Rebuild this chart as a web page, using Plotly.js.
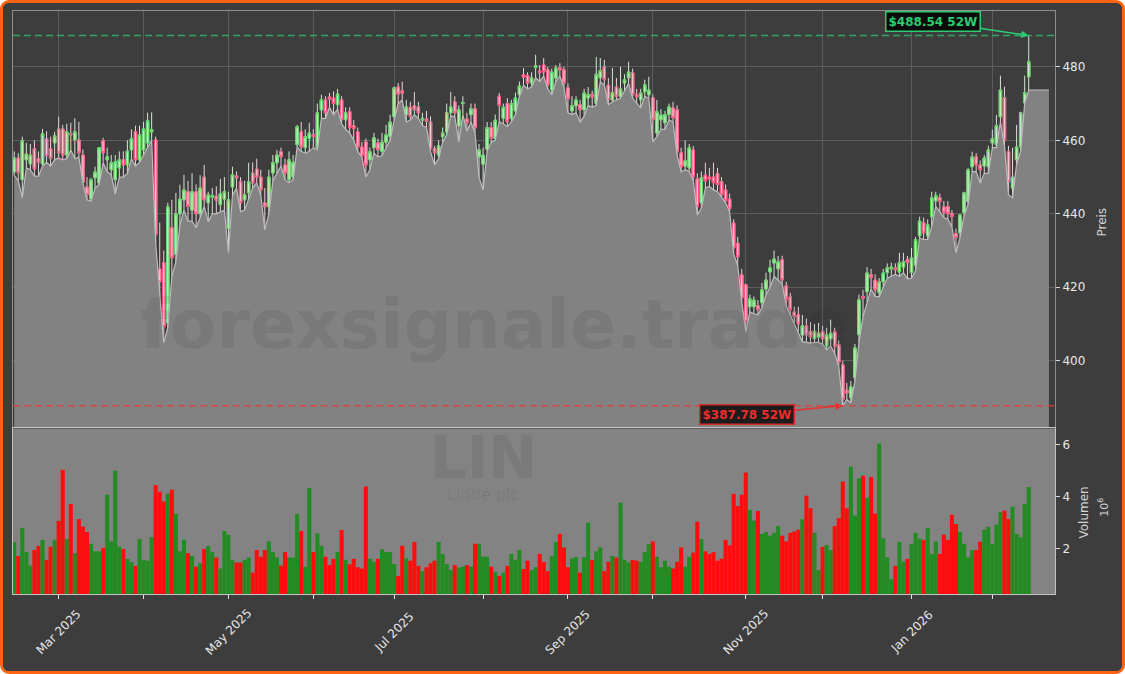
<!DOCTYPE html>
<html><head><meta charset="utf-8">
<script src="https://cdn.plot.ly/plotly-3.0.1.min.js"></script>
<style>
html,body{margin:0;padding:0;background:#ffffff;}
#frame{position:absolute;left:0;top:0;width:1125px;height:674px;box-sizing:border-box;border:3px solid #ff6414;border-radius:9px;background:#3d3d3d;overflow:hidden;}
#chart{width:1119px;height:668px;}
</style></head><body>
<div id="frame"><div id="chart"></div></div>
<script>
const ticker = 'LIN';
const companyName = 'Linde plc';
const watermarkText = 'forexsignale.trade';
const priceTitle = 'Preis';
const volumeTitle = 'Volumen';
const volumeScaleText = '10<sup>6</sup>';

// month starts, as trading-day positions
const monthTickIdx = [11,32,53,74,94,116,137,158,181,200,222,242];
const monthTickLabels = ['Mar 2025','','May 2025','','Jul 2025','','Sep 2025','','Nov 2025','','Jan 2026',''];
const priceTicks = [400,420,440,460,480];
const volumeTicks = [2,4,6];

const openP = [
451.4,455.2,449.3,454.7,453.6,457.7,455.0,453.6,460.4,457.7,
459.3,463.1,463.1,456.0,461.8,460.1,460.1,456.0,447.3,444.0,
449.8,448.4,459.9,454.7,452.0,449.3,452.5,454.7,453.3,457.4,
462.3,454.7,457.4,459.3,462.3,460.1,425.0,426.7,410.3,436.2,
429.0,440.0,443.8,446.0,441.0,446.0,440.0,450.0,443.0,444.5,
444.8,442.5,444.0,436.0,447.3,450.3,448.7,443.8,445.7,451.1,
452.2,450.0,443.0,441.9,451.1,453.9,456.9,453.3,449.3,450.0,
458.8,462.3,458.0,460.5,461.5,458.0,468.3,471.0,471.8,471.5,
469.7,471.0,465.6,467.8,464.0,462.3,458.2,459.6,454.7,458.0,
459.3,457.0,459.5,461.0,466.4,474.5,473.5,467.0,469.0,469.4,
469.1,465.5,465.8,465.0,457.7,456.0,461.0,462.3,467.5,470.5,
463.9,470.0,465.8,467.0,468.6,455.5,453.5,457.5,463.5,460.5,
472.0,466.0,470.0,466.0,468.0,472.4,477.9,477.6,475.6,479.8,
478.8,480.5,479.2,473.7,477.0,479.8,479.2,474.3,468.0,469.4,
469.7,468.3,471.5,472.5,470.0,477.0,480.0,475.0,471.0,474.5,
472.0,475.6,477.0,478.4,472.5,471.0,473.2,472.4,471.6,462.0,
465.6,464.8,467.0,468.8,468.3,456.6,453.0,452.5,457.4,449.5,
443.0,450.5,450.0,450.0,451.0,448.7,446.5,444.0,437.5,432.0,
423.4,420.7,414.7,414.7,415.0,415.8,419.5,424.2,426.6,425.0,
427.5,420.4,417.4,413.3,412.5,407.0,409.5,408.0,406.0,406.5,
408.0,404.0,406.0,407.9,404.4,398.9,392.0,389.9,395.4,407.1,
417.5,418.8,423.4,422.0,418.5,421.5,424.0,425.0,425.3,424.2,
425.5,427.5,424.0,426.0,434.0,437.6,434.0,439.2,443.5,444.4,
441.9,442.0,440.0,434.6,434.8,440.3,443.3,452.8,455.5,453.3,
453.0,452.8,459.3,458.8,466.4,471.6,456.9,447.0,454.7,458.2,
470.2,477.3];

const highP = [
457.0,456.5,461.0,459.3,459.0,460.0,457.0,463.1,462.5,461.0,
462.3,466.4,464.2,464.5,464.8,466.0,465.0,457.5,450.0,449.8,
452.8,458.2,460.7,458.0,456.0,456.0,457.0,457.0,460.0,463.0,
464.0,464.0,465.0,467.5,467.6,461.0,437.6,430.0,443.0,443.8,
445.7,447.9,450.6,449.0,451.0,448.0,450.5,453.3,446.0,447.0,
447.5,449.5,450.0,446.0,452.8,451.5,450.0,449.0,453.9,454.0,
455.0,452.0,447.0,452.0,456.0,457.4,458.0,455.0,457.0,456.0,
464.2,465.0,463.0,464.8,463.0,470.0,472.4,472.0,472.9,473.3,
474.0,472.0,469.0,469.0,465.5,463.5,459.5,460.5,458.0,462.0,
460.5,462.0,464.2,467.0,474.6,475.6,476.0,471.0,470.5,473.2,
470.5,467.5,468.0,466.5,458.5,460.0,463.5,470.0,473.2,472.0,
469.5,472.0,467.5,470.0,470.0,459.0,458.0,465.0,465.0,467.0,
472.9,470.0,471.5,471.0,473.0,476.0,479.7,478.5,478.5,483.3,
480.5,482.4,480.0,479.5,480.5,481.0,480.0,475.5,472.0,472.0,
471.0,474.0,474.5,473.5,482.7,482.4,481.9,477.0,479.7,477.0,
480.0,478.0,481.4,479.5,474.0,474.0,476.5,477.3,472.5,471.0,
468.5,468.0,470.0,470.5,469.5,458.0,460.0,459.0,458.5,451.0,
451.5,453.9,452.5,453.9,452.5,450.0,448.0,445.5,438.5,433.7,
425.0,421.0,418.0,417.5,416.5,421.2,424.0,427.5,430.0,428.5,
428.6,421.5,418.5,414.7,414.7,412.5,411.5,410.5,410.0,410.3,
409.5,409.0,411.2,409.0,405.5,400.0,394.0,394.5,404.6,418.0,
419.3,425.5,425.0,423.5,422.5,425.0,426.5,426.7,426.5,429.4,
429.4,428.5,430.7,433.7,439.2,439.0,438.5,446.0,446.0,445.5,
443.5,443.5,441.0,436.0,440.0,446.0,452.5,456.9,456.5,454.5,
456.0,458.5,462.9,466.9,477.6,474.6,458.5,458.0,464.2,467.8,
477.6,488.54];

const lowP = [
450.5,449.0,444.4,452.5,452.0,450.3,450.2,453.0,454.0,453.0,
454.7,455.2,454.7,455.0,457.4,455.0,455.5,448.4,443.8,443.4,
447.0,448.0,453.9,451.5,450.6,445.4,450.0,450.0,451.0,455.0,
453.0,454.0,456.0,458.0,460.0,432.0,418.0,404.9,409.0,422.9,
427.0,437.0,441.0,438.0,438.0,436.2,439.0,442.0,437.8,440.0,
440.0,440.5,441.0,429.4,445.0,447.0,440.6,441.0,444.0,447.0,
448.5,445.0,435.6,440.0,449.0,451.0,453.0,449.3,448.5,449.3,
458.2,457.0,456.5,457.0,458.0,457.5,466.0,466.0,469.0,467.0,
468.5,464.5,463.0,462.0,460.0,457.0,455.5,450.0,452.0,456.5,
455.5,455.8,458.0,460.0,465.5,470.0,471.0,465.0,465.5,467.0,
466.0,464.0,463.5,456.9,453.3,455.0,459.5,461.5,466.5,466.5,
459.6,467.0,462.5,465.0,462.0,450.0,446.5,457.0,459.5,460.0,
465.0,464.5,463.7,465.0,467.0,472.0,475.0,474.0,474.5,477.0,
476.0,477.5,474.0,472.4,476.0,477.5,474.5,467.5,467.0,467.5,
465.0,466.5,469.5,469.0,469.5,476.0,475.0,469.7,470.5,471.0,
471.5,473.5,475.5,471.5,470.0,468.8,472.0,471.5,459.6,461.0,
463.0,463.0,465.5,465.0,456.0,451.4,452.0,451.5,449.0,439.7,
441.5,447.0,447.5,446.5,446.0,444.6,443.0,440.6,429.0,426.0,
416.0,407.9,413.3,412.8,412.5,414.5,418.0,420.0,423.0,422.0,
421.0,415.0,412.5,410.5,408.0,405.2,405.0,404.8,405.0,405.0,
404.5,403.0,404.0,402.0,398.5,387.78,389.5,388.5,394.5,405.0,
412.0,416.0,419.5,417.5,417.4,420.0,422.5,423.0,423.5,423.0,
424.0,422.3,422.5,424.5,433.4,433.0,433.0,436.5,442.0,440.5,
439.0,438.5,436.5,429.4,433.5,439.5,442.5,451.5,451.5,448.4,
451.0,451.0,458.0,458.0,465.0,458.5,445.2,444.4,453.5,457.0,
470.2,473.7];

const closeP = [
455.2,451.2,459.9,456.3,456.0,452.2,454.0,461.8,455.8,455.0,
461.2,456.6,456.0,462.3,461.5,462.3,456.6,448.6,445.2,449.3,
451.4,458.0,456.6,455.5,453.9,454.2,454.7,453.3,457.1,460.4,
454.7,461.5,463.1,465.3,462.9,434.3,421.5,409.3,441.9,428.0,
440.0,444.0,446.5,442.0,446.0,440.0,447.0,443.8,445.2,445.0,
443.7,445.5,446.0,443.8,450.6,449.8,443.0,445.2,448.7,448.4,
450.0,446.5,441.9,450.0,453.9,456.0,455.5,451.1,454.7,454.0,
463.7,458.2,461.0,462.0,461.0,467.5,471.0,467.5,471.2,470.0,
472.6,465.6,467.5,463.4,463.2,458.2,455.8,453.3,456.9,460.7,
457.4,459.5,461.5,465.0,474.3,472.5,472.8,469.1,466.5,468.3,
467.5,466.0,465.2,457.7,456.6,458.5,462.0,467.5,469.1,467.5,
468.3,470.3,464.8,468.6,463.4,457.4,456.0,463.5,460.5,465.5,
469.5,469.0,465.0,470.0,471.5,474.8,477.2,475.6,477.0,480.3,
478.4,478.6,475.1,478.6,479.7,479.2,475.6,471.3,469.5,471.0,
468.3,472.9,472.5,471.8,478.0,479.0,476.5,471.0,473.0,472.0,
474.0,476.5,478.6,472.4,471.8,472.9,475.1,473.7,465.6,467.8,
466.9,467.0,469.1,466.1,456.9,452.8,454.5,458.0,450.0,442.0,
449.8,449.0,449.5,448.5,448.0,445.2,443.5,441.4,430.7,428.3,
417.1,410.6,416.9,416.5,413.9,419.3,422.0,425.3,427.7,427.0,
422.0,416.6,413.9,412.0,410.0,409.5,407.0,406.5,408.0,407.5,
406.0,407.0,407.5,403.8,399.5,389.4,391.2,392.9,403.5,416.6,
417.0,423.9,422.6,419.3,421.5,423.9,425.3,425.5,424.8,426.7,
427.0,426.7,428.0,433.0,438.0,434.8,437.0,444.4,445.0,443.3,
440.3,440.0,439.3,433.5,439.7,445.7,452.0,455.5,453.3,452.0,
455.2,457.4,460.4,464.0,473.7,460.1,448.7,450.0,458.2,467.5,
473.0,481.4];

// volume in millions
const volumeM = [
2.27,1.73,2.81,1.88,1.36,1.96,2.12,2.35,1.58,2.09,
2.35,3.08,5.04,2.38,3.73,1.84,3.15,2.86,2.65,2.20,
1.91,1.91,2.04,4.08,2.29,5.00,2.09,2.00,1.62,1.49,
1.35,2.38,1.58,1.55,2.46,4.46,4.20,3.82,4.12,4.27,
3.35,1.91,2.35,1.84,1.73,1.32,1.45,2.00,2.12,1.88,
1.67,1.25,2.69,2.54,1.58,1.48,1.48,1.58,1.67,1.09,
1.96,1.70,1.96,2.29,1.88,1.67,1.36,1.88,1.67,1.67,
3.35,2.69,1.32,4.34,1.88,2.60,2.12,1.70,1.38,1.62,
1.88,2.73,1.58,1.41,1.62,1.30,1.25,4.40,1.62,1.51,
1.62,1.99,1.88,1.88,1.42,0.96,2.12,1.64,1.55,2.27,
1.35,1.15,1.30,1.45,1.55,2.27,1.81,1.42,1.19,1.38,
1.29,1.32,1.38,1.32,2.20,2.20,1.70,1.70,1.32,1.12,
0.97,1.09,1.35,1.81,1.58,1.96,1.23,1.55,1.19,1.30,
1.81,1.50,1.15,1.73,2.27,2.58,2.06,1.30,1.64,1.69,
1.09,1.69,3.01,1.58,1.91,2.06,1.15,1.51,1.73,1.67,
3.78,1.58,1.48,1.58,1.55,1.51,1.88,2.19,2.29,1.70,
1.30,1.55,1.32,1.25,1.51,2.06,1.32,1.70,1.86,3.05,
2.38,1.91,1.81,1.88,1.55,1.62,2.35,2.14,4.12,3.65,
4.08,4.94,3.50,3.09,3.46,2.58,2.65,2.51,2.62,2.88,
2.51,2.29,2.62,2.67,2.74,3.14,4.04,3.56,2.62,1.19,
2.08,2.15,1.96,2.88,3.18,4.59,3.56,5.17,3.28,4.72,
4.81,3.97,4.76,3.36,6.05,2.41,1.68,0.84,1.35,2.27,
1.51,1.62,2.20,2.62,2.40,2.35,2.81,1.81,2.28,1.81,
2.55,2.35,3.31,2.96,2.65,2.20,1.68,1.96,1.96,2.28,
2.74,2.85,2.19,2.94,3.42,3.47,3.15,3.62,2.58,2.45,
3.73,4.38];

// ---------- derived ----------
const N = closeP.length;
const idx = closeP.map((_, i) => i);
const bodyTop = openP.map((o, i) => Math.max(o, closeP[i]));
const bodyBot = openP.map((o, i) => Math.min(o, closeP[i]));
const volColors = closeP.map((c, i) => c >= openP[i] ? '#228b22' : '#ff0d0d');
const high52 = Math.max(...highP);
const low52 = Math.min(...lowP);
const iHigh = highP.indexOf(high52);
const iLow = lowP.indexOf(low52);

const xRange = [-0.3, 257.5];
const areaExtEnd = N + 4;
const areaX = idx.concat([areaExtEnd]);
const areaY = lowP.concat([lowP[N - 1]]);

const FONT = 'DejaVu Sans';

const traces = [
  {type:'scatter', x:areaX, y:areaY, mode:'lines', fill:'tozeroy', fillcolor:'#828282',
   line:{color:'#bdbdbd', width:1.2}, hoverinfo:'skip', xaxis:'x', yaxis:'y'},
  {type:'candlestick', x:idx, open:openP, high:highP, low:lowP, close:closeP,
   increasing:{line:{color:'#d2e6d2', width:1}, fillcolor:'#d2e6d2'},
   decreasing:{line:{color:'#ecd0d7', width:1}, fillcolor:'#ecd0d7'},
   whiskerwidth:0, hoverinfo:'skip', xaxis:'x', yaxis:'y'},
  {type:'candlestick', x:idx, open:openP, high:bodyTop, low:bodyBot, close:closeP,
   increasing:{line:{color:'#5ed35e', width:1}, fillcolor:'#c4ecc4'},
   decreasing:{line:{color:'#ff4f7a', width:1}, fillcolor:'#ffc0cf'},
   whiskerwidth:0, hoverinfo:'skip', xaxis:'x', yaxis:'y'},
  {type:'bar', x:idx, y:volumeM, width:1, marker:{color:volColors, line:{width:0}},
   hoverinfo:'skip', xaxis:'x2', yaxis:'y2'}
];

const annotations = [];
monthTickIdx.forEach((v, k) => {
  if (monthTickLabels[k]) annotations.push({xref:'x2', yref:'paper', x:v, y:-0.0652,
    text:monthTickLabels[k], textangle:-45, showarrow:false, xanchor:'center', yanchor:'middle',
    font:{family:FONT, size:12, color:'#e6e6e6'}});
});
annotations.push(
  {xref:'paper', yref:'paper', x:0.4618, y:0.463, text:'<b>'+watermarkText+'</b>', showarrow:false,
   xanchor:'center', yanchor:'middle', font:{family:FONT, size:68, color:'rgba(30,30,30,0.09)'}},
  {xref:'paper', yref:'paper', x:0.4513, y:0.233, text:'<b>'+ticker+'</b>', showarrow:false,
   xanchor:'center', yanchor:'middle', font:{family:FONT, size:58, color:'rgba(30,30,30,0.09)'}},
  {xref:'paper', yref:'paper', x:0.4513, y:0.171, text:companyName, showarrow:false,
   xanchor:'center', yanchor:'middle', font:{family:FONT, size:16, color:'rgba(30,30,30,0.09)'}},
  {xref:'paper', yref:'paper', x:1.0456, y:0.638, text:priceTitle, textangle:-90, showarrow:false,
   xanchor:'center', yanchor:'middle', font:{family:FONT, size:12, color:'#d4d4d4'}},
  {xref:'paper', yref:'paper', x:1.0274, y:0.139, text:volumeTitle, textangle:-90, showarrow:false,
   xanchor:'center', yanchor:'middle', font:{family:FONT, size:12, color:'#d4d4d4'}},
  {xref:'paper', yref:'paper', x:1.0466, y:0.149, text:volumeScaleText, textangle:-90, showarrow:false,
   xanchor:'center', yanchor:'middle', font:{family:FONT, size:11, color:'#d4d4d4'}},
  {xref:'x', yref:'y', x:iHigh, y:high52, text:'<b>$'+high52.toFixed(2)+' 52W</b>',
   showarrow:true, ax:-96, ay:-14, arrowcolor:'#2ecc71', arrowwidth:1.5, arrowhead:2, arrowsize:1,
   font:{family:FONT, size:12, color:'#2ecc71'}, bgcolor:'#0b0b0b', bordercolor:'#2ecc71', borderwidth:1.5, borderpad:2},
  {xref:'x', yref:'y', x:iLow, y:low52, text:'<b>$'+low52.toFixed(2)+' 52W</b>',
   showarrow:true, ax:-96, ay:9, arrowcolor:'#e8302e', arrowwidth:1.5, arrowhead:2, arrowsize:1,
   font:{family:FONT, size:12, color:'#ee2c2c'}, bgcolor:'#1c1c1c', bordercolor:'#d42a2a', borderwidth:1.5, borderpad:2}
);

const shapes = [
  {type:'rect', xref:'x2 domain', yref:'y2 domain', x0:0, x1:1, y0:0, y1:1, layer:'below',
   fillcolor:'#838383', line:{width:0}},
  {type:'line', xref:'x domain', yref:'y', x0:0, x1:1, y0:high52, y1:high52,
   line:{color:'rgba(46,204,113,0.72)', width:1.5, dash:'7px,4px'}},
  {type:'line', xref:'x domain', yref:'y', x0:0, x1:1, y0:low52, y1:low52,
   line:{color:'rgba(235,55,55,0.8)', width:1.5, dash:'7px,4px'}}
];

const layout = {
  width:1119, height:668,
  paper_bgcolor:'#3d3d3d', plot_bgcolor:'#3d3d3d',
  margin:{l:10, r:67, t:8, b:77, pad:0},
  font:{family:FONT, color:'#e6e6e6', size:12},
  showlegend:false,
  boxgap:0.3, boxgroupgap:0.15,
  xaxis:{domain:[0,1], anchor:'y', range:xRange, tickmode:'array', tickvals:monthTickIdx,
    showticklabels:false, ticks:'', showgrid:true, gridcolor:'#5c5c5c', gridwidth:1,
    zeroline:false, showline:true, mirror:true, linecolor:'#8e8e8e', linewidth:1,
    rangeslider:{visible:false}},
  yaxis:{domain:[0.286,1], anchor:'x', side:'right', range:[381.9,495.2], tickmode:'array',
    tickvals:priceTicks, ticks:'outside', ticklen:4, tickcolor:'#d8d8d8',
    tickfont:{family:FONT, size:12, color:'#e8e8e8'}, showgrid:true, gridcolor:'#5c5c5c',
    zeroline:false, showline:true, mirror:true, linecolor:'#8e8e8e', linewidth:1},
  xaxis2:{domain:[0,1], anchor:'y2', matches:'x', range:xRange, tickmode:'array',
    tickvals:monthTickIdx, showticklabels:false, ticks:'outside', ticklen:4, tickcolor:'#e0e0e0',
    showgrid:false, zeroline:false, showline:true, mirror:true, linecolor:'#c4c4c4', linewidth:1},
  yaxis2:{domain:[0,0.284], anchor:'x2', side:'right', range:[0.27,6.63], tickmode:'array',
    tickvals:volumeTicks, ticks:'outside', ticklen:4, tickcolor:'#d8d8d8',
    tickfont:{family:FONT, size:12, color:'#e8e8e8'}, showgrid:false, zeroline:false,
    showline:true, mirror:true, linecolor:'#c4c4c4', linewidth:1},
  annotations:annotations,
  shapes:shapes
};

Plotly.newPlot('chart', traces, layout, {staticPlot:true, displayModeBar:false});
</script>
</body></html>
